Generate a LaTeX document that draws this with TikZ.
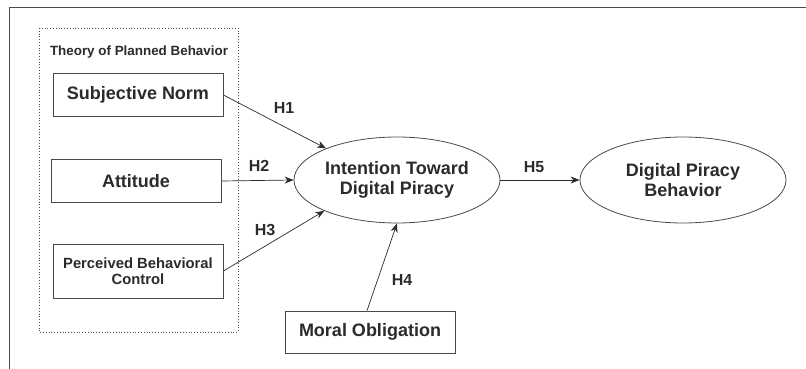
\documentclass[tikz,border=0pt]{standalone}
\usepackage{fontspec}
\setmainfont{Liberation Sans}
\usetikzlibrary{shapes.geometric,arrows.meta}
\definecolor{ink}{HTML}{2B2B2B}
\definecolor{linec}{HTML}{4A4A4A}
\tikzset{
  box/.style={draw=linec,line width=0.8pt,minimum width=170pt,inner sep=2pt,align=center,text=ink,font=\fontsize{18}{20}\selectfont\bfseries},
  oval/.style={ellipse,draw=linec,line width=0.8pt,minimum width=206pt,minimum height=86pt,inner sep=0pt,align=center,text=ink,font=\fontsize{18}{20}\selectfont\bfseries},
  hlab/.style={text=ink,font=\fontsize{16}{18}\selectfont\bfseries,inner sep=0pt},
  arr/.style={draw=ink,line width=0.7pt,-{Stealth[length=9pt,width=7pt]}}
}
\begin{document}
\begin{tikzpicture}[x=1pt,y=-1pt]
\useasboundingbox (0,0) rectangle (806,369);
\fill[white] (0,0) rectangle (806,369);
% outer frame
\draw[linec,line width=0.8pt] (806,7) -- (9.5,7) -- (9.5,369);
% dotted group
\draw[linec,line width=0.8pt,dotted] (39,28) rectangle (238,332);
\node[text=ink,font=\fontsize{13.4}{15}\selectfont\bfseries] (title) at (139,52) {Theory of Planned Behavior};
\node[box,minimum height=43pt] (sn) at (138,95) {Subjective Norm};
\node[box,minimum height=43pt] (att) at (136,181) {Attitude};
\node[box,minimum height=54pt,font=\fontsize{14.8}{16.5}\selectfont\bfseries] (pbc) at (138,271) {Perceived Behavioral\\Control};
\node[box,minimum height=42pt] (mo) at (370,332) {Moral Obligation};
\node[oval] (int) at (397,180) {Intention Toward\\Digital Piracy};
\node[oval] (beh) at (683,180) {Digital Piracy\\Behavior};
% arrows
\draw[arr] (sn.east) -- (int.156);
\draw[arr] (att.east) -- (int.west);
\draw[arr] (pbc.east) -- (int.203);
\draw[arr] ([xshift=-3pt]mo.north) -- (int.south);
\draw[arr] (int.east) -- (beh.west);
% labels
\node[hlab] (h1) at (284,108) {H1};
\node[hlab] (h2) at (259,166) {H2};
\node[hlab] (h3) at (265,230) {H3};
\node[hlab] (h4) at (402,280) {H4};
\node[hlab] (h5) at (534,167) {H5};
\end{tikzpicture}
\end{document}
